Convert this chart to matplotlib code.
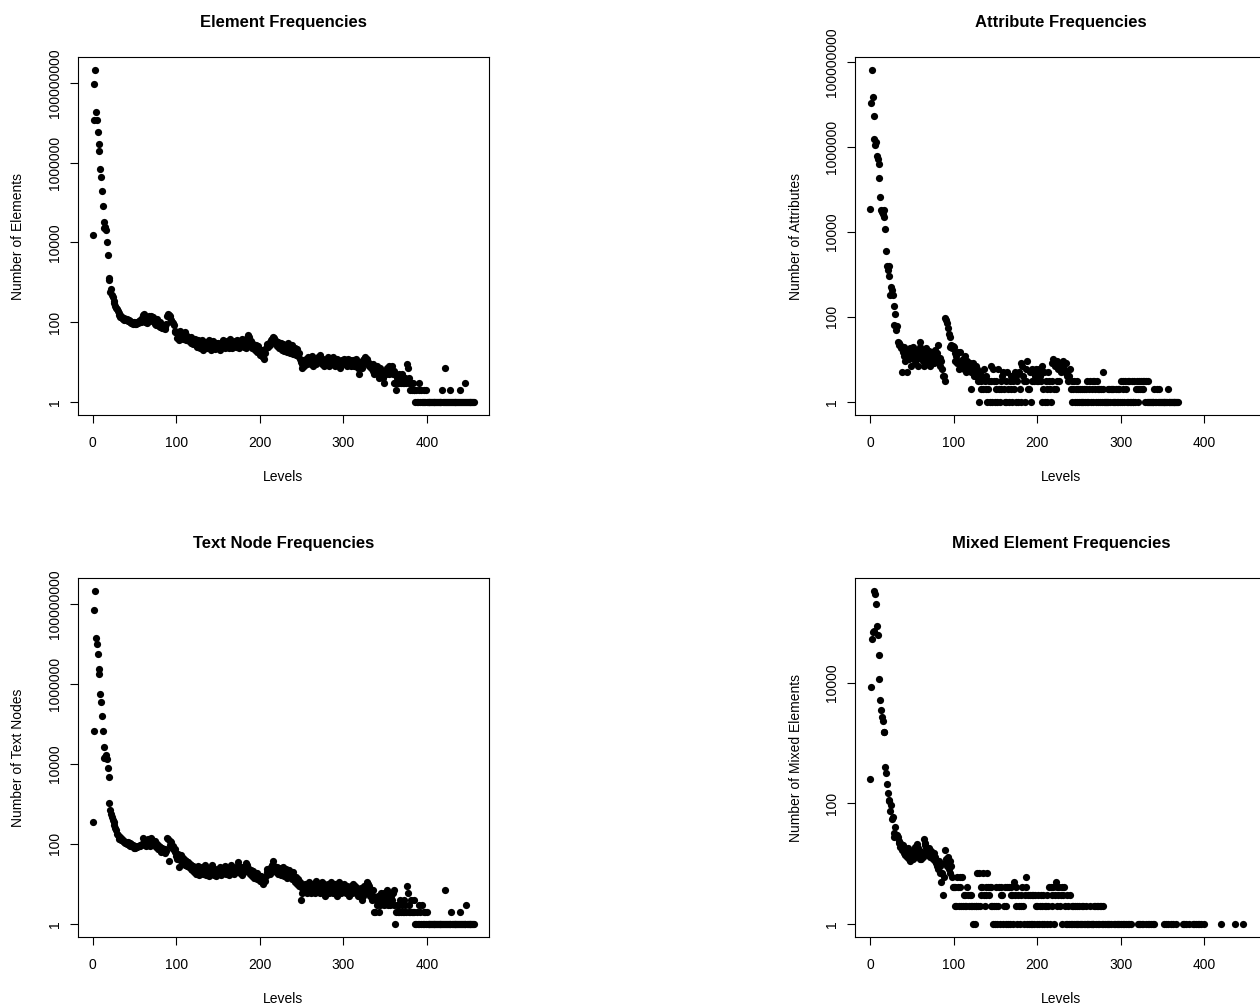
import matplotlib
matplotlib.use("Agg")
from matplotlib import pyplot as plt
from matplotlib.ticker import NullLocator

plt.rcParams['font.family'] = ['Liberation Sans', 'DejaVu Sans']

# counts per nesting level (index = level)
element_counts = [
    15500, 12000000, 95000000, 210000000, 19000000, 12000000, 6000000, 3000000, 2000000, 700000,
    450000, 200000, 80000, 32000, 23000, 25000, 20000, 10500, 4800, 1300,
    1150, 560, 680, 480, 420, 340, 300, 260, 230, 210,
    190, 170, 150, 135, 140, 125, 120, 130, 115, 118,
    110, 120, 105, 112, 100, 108, 95, 102, 92, 98,
    88, 95, 90, 100, 95, 105, 98, 110, 100, 130,
    150, 160, 120, 100, 115, 95, 120, 140, 130, 105,
    145, 125, 135, 110, 90, 100, 85, 120, 95, 80,
    100, 75, 85, 70, 72, 80, 68, 75, 90, 145,
    155, 150, 140, 130, 110, 100, 95, 85, 60, 55,
    55, 40, 58, 35, 50, 60, 45, 52, 38, 48,
    55, 42, 36, 45, 40, 33, 38, 30, 42, 35,
    28, 32, 38, 26, 30, 24, 35, 28, 22, 30,
    25, 35, 20, 28, 32, 24, 30, 22, 27, 36,
    25, 30, 20, 27, 33, 24, 21, 29, 26, 22,
    30, 25, 20, 28, 24, 31, 36, 27, 22, 30,
    25, 34, 28, 23, 37, 29, 26, 22, 30, 25,
    33, 28, 24, 35, 27, 22, 30, 26, 32, 38,
    28, 24, 30, 22, 35, 40, 48, 42, 30, 26,
    33, 22, 28, 24, 20, 26, 18, 22, 25, 20,
    15, 18, 14, 20, 13, 12, 17, 22, 25, 28,
    24, 30, 26, 35, 32, 38, 42, 40, 30, 34,
    28, 25, 32, 22, 27, 30, 20, 24, 28, 19,
    23, 26, 18, 21, 30, 24, 17, 20, 27, 22,
    16, 19, 23, 15, 18, 21, 14, 17, 12, 10,
    7, 9, 11, 8, 10, 12, 9, 11, 13, 10,
    12, 9, 14, 11, 8, 10, 12, 9, 11, 13,
    10, 12, 15, 11, 9, 10, 12, 8, 10, 11,
    9, 13, 10, 8, 11, 12, 9, 10, 13, 11,
    8, 10, 12, 9, 11, 10, 7, 9, 11, 10,
    10, 12, 9, 11, 8, 10, 12, 9, 11, 8,
    10, 9, 11, 8, 10, 12, 9, 7, 10, 5,
    8, 10, 7, 9, 11, 12, 13, 11, 12, 9,
    10, 8, 9, 7, 8, 6, 9, 5, 7, 6,
    8, 5, 6, 4, 7, 5, 6, 4, 5, 3,
    6, 5, 7, 6, 8, 5, 7, 6, 8, 5,
    3, 6, 3, 2, 4, 3, 5, 3, 4, 3,
    5, 3, 4, 3, 4, 3, 9, 7, 3, 4,
    2, 3, 2, 3, 2, 2, 1, 2, 1, 1,
    2, 3, 1, 2, 1, 1, 2, 1, 1, 2,
    1, 1, 1, 1, 1, 1, 1, 1, 1, 1,
    1, 1, 1, 1, 1, 1, 1, 1, 2, 1,
    1, 7, 1, 1, 1, 1, 1, 1, 2, 1,
    1, 1, 1, 1, 1, 1, 1, 1, 1, 1,
    2, 1, 1, 1, 1, 1, 3, 1, 1, 1,
    1, 1, 1, 1, 1, 1, 1,
]

attribute_counts = [
    35000, 11000000, 65000000, 15000000, 5300000, 1600000, 1100000, 1300000, 630000, 540000,
    410000, 190000, 68000, 33000, 30000, 26000, 33000, 23000, 11500, 3600,
    1600, 1300, 1550, 930, 330, 520, 440, 320, 180, 65,
    120, 50, 60, 25, 22, 24, 22, 18, 5, 15,
    12, 20, 9, 14, 5, 17, 10, 13, 18, 7,
    11, 19, 14, 8, 12, 16, 10, 7, 13, 20,
    25, 11, 15, 9, 7, 14, 12, 18, 8, 10,
    16, 13, 7, 11, 9, 15, 8, 12, 17, 10,
    14, 22, 8, 11, 7, 9, 6, 4, 4, 3,
    95, 85, 72, 55, 40, 33, 20, 22, 18, 21,
    20, 14, 9, 12, 8, 15, 6, 9, 15, 8,
    7, 10, 6, 8, 12, 5, 9, 7, 6, 8,
    5, 2, 6, 8, 4, 5, 7, 4, 6, 3,
    1, 5, 2, 3, 4, 2, 6, 3, 2, 4,
    1, 2, 3, 1, 7, 3, 1, 6, 3, 1,
    2, 3, 1, 6, 2, 1, 3, 2, 4, 5,
    2, 1, 3, 1, 5, 2, 1, 3, 4, 2,
    1, 3, 2, 5, 1, 4, 3, 1, 5, 2,
    8, 1, 7, 4, 3, 1, 6, 3, 9, 2,
    2, 5, 1, 6, 3, 5, 3, 4, 6, 3,
    5, 3, 6, 4, 3, 7, 1, 2, 5, 1,
    3, 2, 1, 5, 3, 2, 1, 8, 3, 10,
    2, 7, 2, 9, 3, 6, 3, 8, 5, 6,
    7, 9, 6, 5, 8, 4, 5, 3, 4, 6,
    2, 3, 1, 2, 3, 1, 2, 3, 1, 2,
    1, 2, 1, 2, 1, 1, 2, 1, 2, 1,
    3, 1, 2, 3, 1, 2, 3, 1, 3, 2,
    1, 3, 2, 1, 2, 1, 2, 1, 2, 5,
    1, 1, 1, 1, 2, 1, 2, 1, 2, 2,
    1, 2, 1, 1, 2, 1, 2, 1, 2, 1,
    3, 1, 3, 2, 1, 3, 2, 1, 3, 1,
    3, 1, 1, 3, 1, 1, 3, 1, 2, 3,
    1, 2, 3, 2, 3, 2, 3, 2, 3, 1,
    3, 1, 3, 1, 1, 1, 1, 1, 1, 1,
    2, 1, 1, 2, 1, 2, 1, 1, 1, 1,
    1, 1, 1, 1, 1, 1, 2, 1, 1, 1,
    1, 1, 1, 1, 1, 1, 1, 1, 1,
]

text_counts = [
    360, 66000, 71000000, 210000000, 14000000, 10000000, 5600000, 2400000, 1800000, 550000,
    350000, 160000, 66000, 27000, 14000, 15000, 16500, 13000, 8000, 4700,
    1070, 700, 550, 480, 400, 350, 300, 250, 220, 180,
    170, 150, 135, 145, 125, 130, 115, 120, 110, 105,
    112, 100, 108, 95, 102, 90, 98, 86, 94, 80,
    88, 78, 85, 82, 90, 86, 95, 88, 92, 100,
    140, 120, 105, 95, 88, 110, 130, 100, 115, 90,
    140, 125, 110, 100, 120, 95, 85, 100, 75, 90,
    70, 82, 64, 78, 70, 66, 74, 60, 65, 140,
    130, 38, 120, 95, 110, 80, 90, 70, 75, 62,
    50, 42, 55, 27, 48, 40, 52, 36, 44, 33,
    40, 30, 38, 28, 35, 26, 32, 24, 30, 22,
    28, 20, 26, 18, 25, 20, 28, 17, 24, 19,
    22, 26, 18, 23, 29, 17, 21, 25, 19, 16,
    22, 18, 25, 30, 20, 17, 23, 19, 16, 21,
    18, 24, 27, 20, 17, 22, 25, 19, 28, 21,
    18, 24, 20, 17, 23, 30, 19, 25, 21, 18,
    24, 20, 27, 22, 35, 24, 19, 26, 21, 17,
    23, 20, 28, 24, 33, 30, 25, 21, 18, 22,
    19, 16, 21, 14, 18, 15, 19, 13, 16, 14,
    12, 16, 11, 14, 10, 13, 12, 16, 20, 24,
    19, 22, 18, 26, 21, 30, 38, 28, 24, 20,
    26, 22, 18, 25, 21, 17, 23, 19, 26, 16,
    20, 24, 17, 14, 19, 22, 15, 18, 13, 16,
    20, 14, 11, 15, 12, 10, 13, 9, 11, 4,
    8, 6, 9, 7, 10, 8, 6, 9, 7, 11,
    8, 6, 9, 7, 10, 8, 6, 12, 9, 7,
    10, 8, 6, 9, 11, 7, 8, 10, 5, 8,
    9, 7, 10, 6, 8, 11, 7, 9, 6, 8,
    10, 7, 5, 9, 8, 11, 7, 6, 9, 8,
    7, 10, 8, 6, 9, 7, 8, 5, 7, 9,
    6, 8, 10, 7, 9, 6, 8, 7, 5, 7,
    6, 8, 4, 5, 7, 9, 6, 8, 11, 10,
    7, 9, 5, 6, 4, 7, 5, 2, 2, 4,
    3, 5, 4, 2, 3, 6, 4, 5, 3, 6,
    4, 5, 7, 3, 4, 6, 3, 5, 4, 6,
    7, 3, 1, 2, 3, 2, 3, 2, 4, 2,
    3, 2, 4, 2, 3, 2, 9, 6, 2, 3,
    2, 4, 2, 2, 4, 2, 1, 1, 2, 1,
    3, 1, 2, 1, 3, 1, 2, 1, 2, 1,
    2, 1, 1, 1, 1, 1, 1, 1, 1, 1,
    1, 1, 1, 1, 1, 1, 1, 1, 1, 1,
    1, 1, 7, 1, 1, 1, 1, 1, 1, 2,
    1, 1, 1, 1, 1, 1, 1, 1, 1, 1,
    2, 1, 1, 1, 1, 1, 1, 3, 1, 1,
    1, 1, 1, 1, 1, 1, 1,
]

# mixed elements: levels 0..279 are all filled, deeper levels only here and there
mixed_counts = [
    253, 8500, 54000, 70000, 72000, 330000, 300000, 200000, 88000, 62000,
    29000, 11500, 5200, 3500, 2700, 2300, 1550, 1550, 400, 320,
    210, 150, 115, 110, 75, 93, 54, 60, 28, 32,
    41, 30, 30, 27, 22, 24, 19, 21, 17, 20,
    15, 18, 14, 16, 13, 18, 12, 15, 11, 16,
    14, 12, 17, 13, 19, 15, 21, 18, 14, 12,
    16, 12, 15, 13, 25, 22, 20, 18, 16, 14,
    18, 15, 13, 16, 14, 12, 15, 11, 13, 10,
    9, 8, 11, 7, 9, 5, 7, 3, 6, 10,
    17, 12, 9, 13, 8, 11, 7, 9, 6, 4,
    4, 2, 4, 2, 6, 4, 2, 6, 4, 2,
    6, 2, 3, 2, 3, 2, 4, 3, 2, 3,
    2, 3, 2, 1, 2, 1, 2, 2, 7, 2,
    7, 2, 4, 3, 4, 7, 3, 2, 4, 3,
    7, 4, 3, 4, 2, 4, 2, 1, 2, 1,
    2, 4, 1, 2, 4, 1, 3, 4, 3, 1,
    2, 4, 1, 2, 4, 1, 4, 1, 3, 4,
    3, 1, 5, 3, 2, 4, 1, 3, 2, 1,
    2, 3, 4, 2, 1, 3, 6, 4, 1, 3,
    1, 3, 1, 3, 1, 3, 1, 3, 2, 1,
    2, 3, 1, 2, 3, 1, 2, 3, 1, 2,
    2, 1, 3, 2, 4, 1, 4, 3, 2, 4,
    1, 3, 5, 4, 2, 3, 4, 2, 3, 4,
    1, 3, 4, 2, 1, 3, 1, 2, 1, 3,
    1, 2, 1, 2, 1, 2, 1, 2, 1, 1,
    2, 1, 1, 2, 1, 2, 1, 1, 2, 1,
    1, 1, 1, 2, 1, 1, 1, 1, 2, 2,
    1, 2, 1, 2, 1, 2, 2, 1, 2, 1,
]
mixed_tail_levels = [
    281, 283, 284, 286, 288, 292, 293, 295, 296, 298,
    300, 302, 304, 306, 308, 310, 312, 320, 322, 323,
    325, 327, 330, 332, 334, 336, 338, 340, 352, 354,
    356, 360, 362, 366, 374, 376, 378, 382, 386, 388,
    390, 392, 394, 396, 400, 420, 436, 446,
]
mixed_tail_counts = [
    1, 1, 1, 1, 1, 1, 1, 1, 1, 1,
    1, 1, 1, 1, 1, 1, 1, 1, 1, 1,
    1, 1, 1, 1, 1, 1, 1, 1, 1, 1,
    1, 1, 1, 1, 1, 1, 1, 1, 1, 1,
    1, 1, 1, 1, 1, 1, 1, 1,
]

titles = ["Element Frequencies", "Attribute Frequencies",
          "Text Node Frequencies", "Mixed Element Frequencies"]
ylabels = ["Number of Elements", "Number of Attributes",
           "Number of Text Nodes", "Number of Mixed Elements"]
yticks_big = [1, 100, 10000, 1000000, 100000000]
yticks_small = [1, 100, 10000]
xticks = [0, 100, 200, 300, 400]

W, H = 1260, 1005
fig = plt.figure(figsize=(W / 100, H / 100), dpi=100)

def px_axes(left, top, w, h):
    return fig.add_axes([left / W, 1 - (top + h) / H, w / W, h / H])

boxes = [(77.5, 57, 411.5, 358), (855, 57, 411.5, 358),
         (77.5, 578, 411.5, 359), (855, 578, 411.5, 359)]

series = [
    (list(range(len(element_counts))), element_counts),
    (list(range(len(attribute_counts))), attribute_counts),
    (list(range(len(text_counts))), text_counts),
    (list(range(len(mixed_counts))) + mixed_tail_levels, mixed_counts + mixed_tail_counts),
]
max_level = len(element_counts) - 1

for i, (box, (lv, cnt)) in enumerate(zip(boxes, series)):
    ax = px_axes(*box)
    ax.plot(lv, cnt, 'o', color='black', ms=5.2, mew=0)
    ax.set_yscale('log')
    ax.margins(y=0.04)
    ylim = ax.get_ylim()
    ax.set_xlim(-0.04 * max_level, 1.04 * max_level)
    ticks = yticks_small if i == 3 else yticks_big
    ax.set_yticks(ticks, [str(t) for t in ticks])
    ax.set_ylim(ylim)
    ax.yaxis.set_minor_locator(NullLocator())
    ax.set_xticks(xticks, [str(t) for t in xticks])
    plt.setp(ax.get_yticklabels(), rotation=90, va='center')
    ax.tick_params(axis='both', direction='out', length=6, width=0.8,
                   labelsize=10, color='black')
    ax.tick_params(axis='x', pad=9.2)
    ax.tick_params(axis='y', pad=5.5)
    for sp in ax.spines.values():
        sp.set_linewidth(0.8)
    ax.set_xlabel("Levels", fontsize=10, va='center')
    ax.xaxis.set_label_coords(0.5, -62 / box[3])
    ax.set_ylabel(ylabels[i], fontsize=10, va='center')
    ax.yaxis.set_label_coords(-59 / box[2], 0.5)
    ax.text(0.5, 1 + 35 / box[3], titles[i], transform=ax.transAxes,
            ha='center', va='center', fontsize=12, fontweight='bold')

fig.savefig("out.png", dpi=100)
